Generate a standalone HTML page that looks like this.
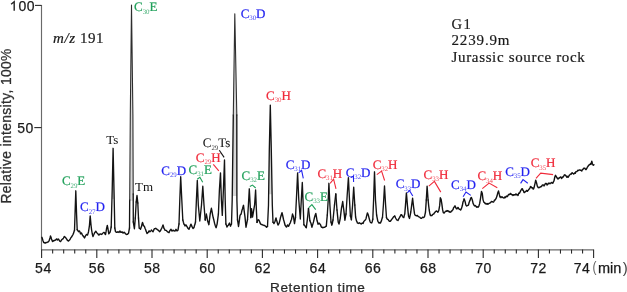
<!DOCTYPE html>
<html><head><meta charset="utf-8"><style>
html,body{margin:0;padding:0;background:#fff;}
svg{display:block;will-change:transform;}
.s{font-family:"Liberation Sans",sans-serif;}
.r{font-family:"Liberation Serif",serif;}
</style></head><body>
<svg width="627" height="292" viewBox="0 0 627 292">
<rect width="627" height="292" fill="#fff"/>
<g stroke="#6a6a6a" stroke-width="1.15" fill="none">
<line x1="41.5" y1="5" x2="41.5" y2="250"/>
<line x1="41.5" y1="249.9" x2="593.6" y2="249.9"/>
</g>
<g stroke="#2a2a2a" stroke-width="1.1" fill="none">
<line x1="35" y1="5.4" x2="41.5" y2="5.4"/>
<line x1="34.3" y1="127.6" x2="41.5" y2="127.6"/>
<line x1="41.60" y1="249.5" x2="41.60" y2="258"/>
<line x1="52.64" y1="249.5" x2="52.64" y2="253.6"/>
<line x1="63.68" y1="249.5" x2="63.68" y2="253.6"/>
<line x1="74.72" y1="249.5" x2="74.72" y2="253.6"/>
<line x1="85.76" y1="249.5" x2="85.76" y2="253.6"/>
<line x1="96.80" y1="249.5" x2="96.80" y2="258"/>
<line x1="107.84" y1="249.5" x2="107.84" y2="253.6"/>
<line x1="118.88" y1="249.5" x2="118.88" y2="253.6"/>
<line x1="129.92" y1="249.5" x2="129.92" y2="253.6"/>
<line x1="140.96" y1="249.5" x2="140.96" y2="253.6"/>
<line x1="152.00" y1="249.5" x2="152.00" y2="258"/>
<line x1="163.04" y1="249.5" x2="163.04" y2="253.6"/>
<line x1="174.08" y1="249.5" x2="174.08" y2="253.6"/>
<line x1="185.12" y1="249.5" x2="185.12" y2="253.6"/>
<line x1="196.16" y1="249.5" x2="196.16" y2="253.6"/>
<line x1="207.20" y1="249.5" x2="207.20" y2="258"/>
<line x1="218.24" y1="249.5" x2="218.24" y2="253.6"/>
<line x1="229.28" y1="249.5" x2="229.28" y2="253.6"/>
<line x1="240.32" y1="249.5" x2="240.32" y2="253.6"/>
<line x1="251.36" y1="249.5" x2="251.36" y2="253.6"/>
<line x1="262.40" y1="249.5" x2="262.40" y2="258"/>
<line x1="273.44" y1="249.5" x2="273.44" y2="253.6"/>
<line x1="284.48" y1="249.5" x2="284.48" y2="253.6"/>
<line x1="295.52" y1="249.5" x2="295.52" y2="253.6"/>
<line x1="306.56" y1="249.5" x2="306.56" y2="253.6"/>
<line x1="317.60" y1="249.5" x2="317.60" y2="258"/>
<line x1="328.64" y1="249.5" x2="328.64" y2="253.6"/>
<line x1="339.68" y1="249.5" x2="339.68" y2="253.6"/>
<line x1="350.72" y1="249.5" x2="350.72" y2="253.6"/>
<line x1="361.76" y1="249.5" x2="361.76" y2="253.6"/>
<line x1="372.80" y1="249.5" x2="372.80" y2="258"/>
<line x1="383.84" y1="249.5" x2="383.84" y2="253.6"/>
<line x1="394.88" y1="249.5" x2="394.88" y2="253.6"/>
<line x1="405.92" y1="249.5" x2="405.92" y2="253.6"/>
<line x1="416.96" y1="249.5" x2="416.96" y2="253.6"/>
<line x1="428.00" y1="249.5" x2="428.00" y2="258"/>
<line x1="439.04" y1="249.5" x2="439.04" y2="253.6"/>
<line x1="450.08" y1="249.5" x2="450.08" y2="253.6"/>
<line x1="461.12" y1="249.5" x2="461.12" y2="253.6"/>
<line x1="472.16" y1="249.5" x2="472.16" y2="253.6"/>
<line x1="483.20" y1="249.5" x2="483.20" y2="258"/>
<line x1="494.24" y1="249.5" x2="494.24" y2="253.6"/>
<line x1="505.28" y1="249.5" x2="505.28" y2="253.6"/>
<line x1="516.32" y1="249.5" x2="516.32" y2="253.6"/>
<line x1="527.36" y1="249.5" x2="527.36" y2="253.6"/>
<line x1="538.40" y1="249.5" x2="538.40" y2="258"/>
<line x1="549.44" y1="249.5" x2="549.44" y2="253.6"/>
<line x1="560.48" y1="249.5" x2="560.48" y2="253.6"/>
<line x1="571.52" y1="249.5" x2="571.52" y2="253.6"/>
<line x1="582.56" y1="249.5" x2="582.56" y2="253.6"/>
<line x1="593.60" y1="249.5" x2="593.60" y2="258"/>
</g>
<g class="s" font-size="14" fill="#1a1a1a" stroke="#1a1a1a" stroke-width="0.25">
<text x="35.0" y="10.9" text-anchor="end" letter-spacing="0.5">00</text>
<path d="M11.1 4.2 L14.2 1.7 L14.2 10.8" fill="none" stroke="#222" stroke-width="1.4"/>
<text x="33.8" y="132.9" text-anchor="end" letter-spacing="0.5">50</text>
<text x="43.4" y="273.0" text-anchor="middle" letter-spacing="0.5">54</text>
<text x="97.1" y="273.0" text-anchor="middle" letter-spacing="0.5">56</text>
<text x="152.2" y="273.0" text-anchor="middle" letter-spacing="0.5">58</text>
<text x="207.5" y="273.0" text-anchor="middle" letter-spacing="0.5">60</text>
<text x="262.7" y="273.0" text-anchor="middle" letter-spacing="0.5">62</text>
<text x="317.9" y="273.0" text-anchor="middle" letter-spacing="0.5">64</text>
<text x="373.1" y="273.0" text-anchor="middle" letter-spacing="0.5">66</text>
<text x="428.3" y="273.0" text-anchor="middle" letter-spacing="0.5">68</text>
<text x="483.5" y="273.0" text-anchor="middle" letter-spacing="0.5">70</text>
<text x="538.6" y="273.0" text-anchor="middle" letter-spacing="0.5">72</text>
<text x="582.1" y="273.0" text-anchor="middle" letter-spacing="0.5">74</text>
<text x="592.5" y="272.5" font-size="15" font-weight="100" fill="#666" stroke="none" transform="scale(0.8,1) translate(148.1,0)">(</text>
<text x="598" y="272.6" font-size="14.5">min</text>
<text x="622.8" y="272.5" font-size="15" fill="#444" stroke="none">)</text>
<text x="270.1" y="291.6" font-size="13.6" fill="#333" letter-spacing="0.55">Retention time</text>
<text transform="translate(10.6,203.6) rotate(-90)" font-size="13.8" fill="#333" letter-spacing="0.38">Relative intensity, 100%</text>
</g>
<g class="r" font-size="15" fill="#1a1a1a" stroke="#1a1a1a" stroke-width="0.2">
<text x="53.0" y="43.3" font-size="15" font-style="italic" letter-spacing="0.6">m/z</text>
<text x="80.0" y="43.4" font-size="15" letter-spacing="0.55">191</text>
<text x="451.5" y="28.6" font-size="14.5" letter-spacing="1.5">G1</text>
<text x="451.5" y="44.8" letter-spacing="0.85">2239.9m</text>
<text x="451.5" y="61.9" letter-spacing="0.66">Jurassic source rock</text>
</g>
<polygon points="111.96,199.00 112.20,190.00 113.10,148.30 114.00,190.00 114.19,199.00" fill="#d8d8d8" stroke="none"/>
<polygon points="129.69,200.70 130.30,115.00 131.50,5.00 132.90,115.00 133.22,200.70" fill="#d8d8d8" stroke="none"/>
<polygon points="232.25,196.00 233.30,115.00 234.80,13.70 236.80,115.00 236.90,196.00" fill="#d8d8d8" stroke="none"/>
<polygon points="268.66,194.20 269.30,150.00 270.30,105.10 271.30,150.00 272.10,194.20" fill="#d8d8d8" stroke="none"/>
<polyline points="41.90,237.30 42.40,238.78 42.90,240.50 43.80,242.60 44.40,242.61 45.00,243.10 45.50,243.04 46.00,242.47 46.50,242.60 47.00,242.46 47.50,242.17 48.00,242.10 48.50,241.29 49.00,241.10 49.50,239.56 50.00,238.00 50.50,236.00 51.00,237.18 51.50,239.00 52.00,240.25 52.50,241.60 53.00,241.05 53.50,241.10 54.00,240.56 54.50,240.60 55.00,240.25 55.50,240.00 56.00,239.73 56.50,239.00 57.00,239.24 57.50,240.00 58.00,239.31 58.50,239.00 59.00,239.89 59.50,240.60 60.00,241.41 60.50,241.60 61.00,240.85 61.50,240.00 62.00,239.43 62.50,239.00 63.00,238.83 63.50,238.00 64.00,236.88 64.50,236.40 65.00,237.20 65.50,237.50 66.00,238.10 66.50,239.00 67.00,239.55 67.50,240.60 68.00,240.58 68.50,241.10 69.00,240.42 69.50,240.00 70.00,239.47 70.50,238.50 71.00,237.53 71.50,237.00 72.00,236.26 72.50,235.40 73.00,234.50 73.50,233.40 74.00,231.76 74.50,230.30" fill="none" stroke="#111" stroke-width="1.4" stroke-linejoin="round" stroke-linecap="round"/>
<polyline points="74.50,230.30 75.00,215.00 75.80,190.80 76.60,215.00 77.20,229.70" fill="none" stroke="#141414" stroke-width="1.35" stroke-linejoin="round" stroke-linecap="round"/>
<polyline points="77.20,229.70 77.85,230.73 78.50,231.70 79.00,231.04 79.50,231.00 80.00,232.09 80.50,233.80 81.00,233.19 81.50,233.00 82.00,234.18 82.50,235.10 83.00,235.75 83.50,236.50 84.00,237.07 84.50,237.90 85.00,236.91 85.50,235.80 86.00,235.12 86.50,234.50 87.00,234.66 87.50,235.10 88.00,233.61 88.50,231.70 89.00,228.49 89.50,225.00 90.20,216.00 91.00,225.00 91.60,230.00 92.30,234.00 93.00,236.50 93.50,235.15 94.00,234.22 94.50,233.00 95.15,232.12 95.80,231.20 96.37,232.23 96.93,232.89 97.50,233.50 98.00,233.85 98.50,234.84 99.00,235.00 99.65,234.23 100.30,234.00 100.90,234.19 101.50,234.50 102.00,234.18 102.50,233.26 103.00,233.00 103.50,232.69 104.00,232.40 104.50,232.78 105.00,233.92 105.50,234.50 106.00,231.94 106.50,229.00 107.30,225.50 108.00,229.00 108.80,233.80 109.40,233.15 110.00,232.40 110.60,229.96 111.20,227.00" fill="none" stroke="#111" stroke-width="1.4" stroke-linejoin="round" stroke-linecap="round"/>
<polyline points="111.20,227.00 112.20,190.00 113.10,148.30 114.00,190.00 114.80,228.00" fill="none" stroke="#141414" stroke-width="1.35" stroke-linejoin="round" stroke-linecap="round"/>
<polyline points="114.80,228.00 115.50,231.70 116.00,231.92 116.50,232.40 117.00,232.30 117.50,232.00 118.00,231.70 118.50,232.11 119.00,232.40 119.50,231.67 120.00,231.00 120.50,231.94 121.00,232.40 121.50,232.36 122.00,231.70 122.50,232.33 123.00,233.00 123.50,232.91 124.00,232.29 124.50,232.40 125.00,233.24 125.50,233.80 126.00,234.07 126.50,234.48 127.00,234.30 127.50,234.26 128.00,233.62 128.50,233.50 129.00,230.67 129.50,228.00" fill="none" stroke="#111" stroke-width="1.4" stroke-linejoin="round" stroke-linecap="round"/>
<polyline points="129.50,228.00 129.70,200.00" fill="none" stroke="#141414" stroke-width="1.35" stroke-linejoin="round" stroke-linecap="round"/>
<polyline points="129.70,200.00 130.30,115.00 131.50,5.00 132.90,115.00 133.20,194.00" fill="none" stroke="#2e2e2e" stroke-width="1.1" stroke-linejoin="round" stroke-linecap="round"/>
<polyline points="133.20,194.00 133.30,222.00" fill="none" stroke="#141414" stroke-width="1.35" stroke-linejoin="round" stroke-linecap="round"/>
<polyline points="133.30,222.00 133.85,225.47 134.40,228.70 135.30,218.00" fill="none" stroke="#111" stroke-width="1.4" stroke-linejoin="round" stroke-linecap="round"/>
<polyline points="135.30,218.00 136.20,202.00" fill="none" stroke="#141414" stroke-width="1.35" stroke-linejoin="round" stroke-linecap="round"/>
<polyline points="136.20,202.00 137.00,195.50 137.80,203.00" fill="none" stroke="#111" stroke-width="1.4" stroke-linejoin="round" stroke-linecap="round"/>
<polyline points="137.80,203.00 138.50,218.00" fill="none" stroke="#141414" stroke-width="1.35" stroke-linejoin="round" stroke-linecap="round"/>
<polyline points="138.50,218.00 139.20,228.30 139.85,228.42 140.50,229.20 141.00,227.87 141.50,226.60 142.00,224.27 142.50,222.40 143.00,223.83 143.50,225.80 144.00,225.89 144.50,226.60 145.00,228.22 145.50,229.21 146.00,230.90 146.50,232.02 147.00,233.50 147.50,232.97 148.00,232.60 148.50,232.01 149.00,230.90 149.50,231.03 150.00,231.75 150.50,231.13 151.00,230.62 151.50,230.00 152.00,230.85 152.50,231.39 153.00,231.75 153.50,230.73 154.00,229.20 154.50,228.74 155.00,228.54 155.50,228.30 156.00,228.50 156.50,229.17 157.00,229.20 157.50,229.92 158.00,230.00 158.50,230.34 159.00,230.94 159.50,231.75 160.00,231.09 160.50,230.80 161.00,229.51 161.50,228.59 162.00,227.50 162.50,226.31 163.00,225.00 163.50,226.58 164.00,228.50 164.50,229.00 165.00,230.20 165.50,230.31 166.00,230.44 166.50,230.70 167.00,231.15 167.50,231.82 168.00,231.90 168.50,232.43 169.00,232.70 169.50,231.46 170.00,230.20 170.50,229.83 171.00,229.30 171.50,230.27 172.00,231.00 172.50,230.42 173.00,230.75 173.50,230.20 174.00,230.66 174.50,231.00 175.00,231.00 175.50,230.36 176.00,229.30 176.50,230.07 177.00,231.00 177.50,230.53 178.00,230.20 178.50,226.82 179.00,224.00" fill="none" stroke="#111" stroke-width="1.4" stroke-linejoin="round" stroke-linecap="round"/>
<polyline points="179.00,224.00 179.80,200.00 180.70,176.70 181.80,200.00 182.80,220.00" fill="none" stroke="#141414" stroke-width="1.35" stroke-linejoin="round" stroke-linecap="round"/>
<polyline points="182.80,220.00 183.40,222.19 184.00,224.20 184.50,224.79 185.00,226.00 185.50,225.20 186.00,225.00 186.50,225.70 187.00,226.80 187.50,227.41 188.00,228.50 188.50,228.79 189.00,229.30 189.50,227.74 190.00,226.80 190.50,225.15 191.00,224.20 191.50,225.26 192.00,226.80 192.50,227.37 193.00,228.50 193.50,227.95 194.00,227.60 194.50,225.40 195.00,224.13 195.50,222.00" fill="none" stroke="#111" stroke-width="1.4" stroke-linejoin="round" stroke-linecap="round"/>
<polyline points="195.50,222.00 196.40,200.00 197.30,180.50 198.30,205.00 199.80,221.00 201.50,205.00 202.80,186.20 204.00,205.00 205.20,220.00" fill="none" stroke="#141414" stroke-width="1.35" stroke-linejoin="round" stroke-linecap="round"/>
<polyline points="205.20,220.00 205.75,217.08 206.30,214.00 206.95,217.25 207.60,221.00 208.25,222.68 208.90,224.70 209.55,219.24 210.20,214.00 210.80,211.05 211.40,208.30 212.05,211.54 212.70,215.30 213.30,218.04 213.90,220.30 214.55,223.20 215.20,225.40 216.10,227.70 216.60,225.88 217.10,224.10 217.75,219.04 218.40,214.00" fill="none" stroke="#111" stroke-width="1.4" stroke-linejoin="round" stroke-linecap="round"/>
<polyline points="218.40,214.00 219.40,190.00 220.50,172.90 221.40,200.00 222.30,215.40 223.40,190.00 224.50,160.00 225.20,200.00 225.90,224.00" fill="none" stroke="#141414" stroke-width="1.35" stroke-linejoin="round" stroke-linecap="round"/>
<polyline points="225.90,224.00 226.45,225.21 227.00,227.00 227.50,226.05 228.00,225.56 228.50,225.00 229.00,223.84 229.50,223.00 230.00,224.83 230.50,226.20 231.00,224.86 231.50,224.00" fill="none" stroke="#111" stroke-width="1.4" stroke-linejoin="round" stroke-linecap="round"/>
<polyline points="231.50,224.00 232.20,200.00 232.56,172.00 233.30,115.00" fill="none" stroke="#141414" stroke-width="1.35" stroke-linejoin="round" stroke-linecap="round"/>
<polyline points="233.30,115.00 234.80,13.70 236.80,115.00" fill="none" stroke="#2e2e2e" stroke-width="1.1" stroke-linejoin="round" stroke-linecap="round"/>
<polyline points="236.80,115.00 236.87,172.00 236.90,200.00 237.50,220.00" fill="none" stroke="#141414" stroke-width="1.35" stroke-linejoin="round" stroke-linecap="round"/>
<polyline points="237.50,220.00 238.00,222.92 238.50,226.50 239.00,223.15 239.50,219.19 240.00,215.50 240.50,214.60 241.00,214.20 241.50,212.40 242.00,210.20 242.50,208.70 243.00,207.02 243.50,205.30 244.00,209.53 244.50,213.35 245.00,217.00 245.50,222.24 246.00,227.20 246.50,224.53 247.00,222.11 247.50,219.70" fill="none" stroke="#111" stroke-width="1.4" stroke-linejoin="round" stroke-linecap="round"/>
<polyline points="247.50,219.70 248.40,205.00 249.30,188.80 250.20,205.00 250.80,217.60" fill="none" stroke="#141414" stroke-width="1.35" stroke-linejoin="round" stroke-linecap="round"/>
<polyline points="250.80,217.60 251.50,208.70 252.00,212.62 252.50,217.00 253.00,214.39 253.50,211.40 254.05,208.22 254.60,205.00" fill="none" stroke="#111" stroke-width="1.4" stroke-linejoin="round" stroke-linecap="round"/>
<polyline points="254.60,205.00 255.60,190.00 256.40,210.00 257.00,222.40" fill="none" stroke="#141414" stroke-width="1.35" stroke-linejoin="round" stroke-linecap="round"/>
<polyline points="257.00,222.40 257.50,221.25 258.00,219.70 258.50,219.88 259.00,220.30 259.50,221.27 260.00,222.85 260.50,223.80 261.00,224.37 261.50,224.51 262.00,224.50 262.50,224.91 263.00,225.12 263.50,225.10 264.00,225.50 264.50,225.38 265.00,225.80 265.50,226.28 266.00,226.63 266.50,227.20 267.00,226.52 267.50,226.50" fill="none" stroke="#111" stroke-width="1.4" stroke-linejoin="round" stroke-linecap="round"/>
<polyline points="267.50,226.50 268.50,205.00 269.30,150.00 270.30,105.10 271.30,150.00 272.30,205.00 273.00,222.20" fill="none" stroke="#141414" stroke-width="1.35" stroke-linejoin="round" stroke-linecap="round"/>
<polyline points="273.00,222.20 273.50,222.57 274.00,223.60 274.50,222.40 275.00,221.50 275.50,219.58 276.00,218.00 276.50,219.88 277.00,221.50 277.50,223.57 278.00,225.00 278.50,224.26 279.00,223.60 279.50,221.84 280.00,219.81 280.50,217.40 281.00,216.12 281.50,214.11 282.00,212.60 282.50,214.70 283.00,217.01 283.50,219.50 284.00,221.12 284.50,222.96 285.00,225.00 285.50,225.75 286.00,226.61 286.50,227.00 287.00,226.24 287.50,225.00 288.00,225.64 288.50,226.30 289.00,225.36 289.50,224.20 290.00,223.41 290.50,222.20 291.00,220.56 291.50,219.50 292.00,216.86 292.50,214.00 293.00,215.64 293.50,216.70 294.00,220.35 294.50,223.60 295.00,220.68 295.50,217.40" fill="none" stroke="#111" stroke-width="1.4" stroke-linejoin="round" stroke-linecap="round"/>
<polyline points="295.50,217.40 296.60,195.00 297.60,173.00 298.80,200.00 300.30,219.00 301.30,200.00 302.30,182.50 303.20,205.00 303.90,224.70" fill="none" stroke="#141414" stroke-width="1.35" stroke-linejoin="round" stroke-linecap="round"/>
<polyline points="303.90,224.70 304.50,225.43 305.10,225.97 305.70,227.16 306.30,227.70 306.80,223.73 307.30,220.00 307.90,214.47 308.50,208.50" fill="none" stroke="#111" stroke-width="1.4" stroke-linejoin="round" stroke-linecap="round"/>
<polyline points="308.50,208.50 309.90,220.60" fill="none" stroke="#141414" stroke-width="1.35" stroke-linejoin="round" stroke-linecap="round"/>
<polyline points="309.90,220.60 310.40,222.15 310.90,223.00 311.40,225.02 311.90,227.20 312.45,225.33 313.00,223.60 313.50,221.90 314.00,219.70 314.50,217.50 315.15,215.25 315.80,213.50 316.40,216.72 317.00,220.50 317.50,222.08 318.00,224.20 318.55,223.96 319.10,223.10 319.65,223.89 320.20,224.20 320.70,225.18 321.20,226.70 321.70,227.20 322.20,227.20 322.70,227.73 323.20,227.50 323.73,227.52 324.27,227.18 324.80,227.20 325.30,226.91 325.80,226.24 326.30,226.20 326.80,220.21 327.30,215.00" fill="none" stroke="#111" stroke-width="1.4" stroke-linejoin="round" stroke-linecap="round"/>
<polyline points="327.30,215.00 328.20,200.00 328.90,183.30 329.90,205.00 331.00,222.00" fill="none" stroke="#141414" stroke-width="1.35" stroke-linejoin="round" stroke-linecap="round"/>
<polyline points="331.00,222.00 331.90,225.20 332.45,222.99 333.00,220.00" fill="none" stroke="#111" stroke-width="1.4" stroke-linejoin="round" stroke-linecap="round"/>
<polyline points="333.00,220.00 334.50,205.00" fill="none" stroke="#141414" stroke-width="1.35" stroke-linejoin="round" stroke-linecap="round"/>
<polyline points="334.50,205.00 335.15,199.57 335.80,193.90" fill="none" stroke="#111" stroke-width="1.4" stroke-linejoin="round" stroke-linecap="round"/>
<polyline points="335.80,193.90 337.00,210.00" fill="none" stroke="#141414" stroke-width="1.35" stroke-linejoin="round" stroke-linecap="round"/>
<polyline points="337.00,210.00 337.60,216.02 338.20,222.00 339.00,224.10 339.65,221.42 340.30,218.00 340.90,212.94 341.50,208.00 342.10,205.07 342.70,201.50 343.25,206.03 343.80,210.00 344.35,214.85 344.90,220.20 345.45,216.88 346.00,214.00" fill="none" stroke="#111" stroke-width="1.4" stroke-linejoin="round" stroke-linecap="round"/>
<polyline points="346.00,214.00 347.20,195.00 348.40,177.60 349.50,200.00 350.40,216.00" fill="none" stroke="#141414" stroke-width="1.35" stroke-linejoin="round" stroke-linecap="round"/>
<polyline points="350.40,216.00 350.90,217.67 351.40,219.70" fill="none" stroke="#111" stroke-width="1.4" stroke-linejoin="round" stroke-linecap="round"/>
<polyline points="351.40,219.70 352.60,205.00 353.70,187.20 354.80,205.00" fill="none" stroke="#141414" stroke-width="1.35" stroke-linejoin="round" stroke-linecap="round"/>
<polyline points="354.80,205.00 355.60,217.00 356.40,220.60 356.90,221.56 357.40,223.00 358.30,223.50 358.80,223.23 359.30,222.80 360.20,223.50 360.70,223.53 361.20,224.00 361.70,223.42 362.20,223.00 363.10,223.50 363.60,221.96 364.10,221.10 365.00,220.10 365.50,219.79 366.00,218.70 366.70,215.66 367.40,212.90 367.90,214.06 368.40,215.30 368.90,217.33 369.40,219.20 369.95,221.24 370.50,222.50 371.10,222.67 371.70,223.00 372.25,221.50 372.80,219.20" fill="none" stroke="#111" stroke-width="1.4" stroke-linejoin="round" stroke-linecap="round"/>
<polyline points="372.80,219.20 373.60,200.00 374.50,171.80 375.50,200.00 376.60,215.00" fill="none" stroke="#141414" stroke-width="1.35" stroke-linejoin="round" stroke-linecap="round"/>
<polyline points="376.60,215.00 377.20,218.05 377.80,221.10 378.40,222.08 379.00,223.00 379.50,223.02 380.00,222.52 380.50,223.00 381.00,221.74 381.50,220.60 382.00,218.63 382.50,217.30" fill="none" stroke="#111" stroke-width="1.4" stroke-linejoin="round" stroke-linecap="round"/>
<polyline points="382.50,217.30 383.40,205.00 384.50,186.00 385.60,205.00 386.50,217.70" fill="none" stroke="#141414" stroke-width="1.35" stroke-linejoin="round" stroke-linecap="round"/>
<polyline points="386.50,217.70 387.40,219.30 388.05,219.39 388.70,220.50 389.60,221.40 390.30,221.26 391.00,220.50 391.65,219.31 392.30,218.80 393.00,217.72 393.70,216.70 394.20,216.49 394.70,215.80 395.60,218.00 396.30,219.11 397.00,220.10 397.50,220.12 398.00,220.50 398.50,219.47 399.00,218.40 399.50,217.61 400.00,216.70 400.50,215.95 401.00,214.60 401.50,214.58 402.00,215.40 402.50,216.31 403.00,217.10 403.80,217.60 404.30,215.38 404.80,213.70 405.50,205.00 406.40,193.00 406.90,198.76 407.40,205.00 407.95,210.80 408.50,216.00 409.00,217.21 409.50,218.40 410.15,215.27 410.80,212.00 411.70,205.00 412.60,198.30 413.10,202.94 413.60,207.00 414.50,213.70 415.00,215.01 415.50,215.40 416.40,215.80 416.90,215.54 417.40,215.40 417.95,216.18 418.50,216.70 419.00,216.91 419.50,217.10 420.00,217.56 420.50,218.00 421.05,218.42 421.60,218.40 422.10,217.70 422.60,217.10 423.10,217.39 423.60,217.60 424.50,216.70 425.00,214.32 425.50,212.00 426.30,200.00" fill="none" stroke="#111" stroke-width="1.4" stroke-linejoin="round" stroke-linecap="round"/>
<polyline points="426.30,200.00 427.10,186.10 428.10,200.00" fill="none" stroke="#141414" stroke-width="1.35" stroke-linejoin="round" stroke-linecap="round"/>
<polyline points="428.10,200.00 428.65,205.52 429.20,210.00 429.70,212.73 430.20,215.00 430.70,215.69 431.20,215.50 431.85,215.67 432.50,214.80 433.10,214.11 433.70,214.00 434.60,212.70 435.40,211.80 436.30,211.00 437.10,211.40 437.90,212.30 438.80,210.50 439.70,205.40 440.30,197.70 441.10,199.40 441.80,203.70 442.60,209.70 443.30,212.70 444.10,213.10 445.00,211.80 445.50,211.47 446.00,211.00 446.50,211.30 447.00,210.50 447.50,211.17 448.00,211.00 448.50,210.95 449.00,211.80 449.50,211.58 450.00,212.30 450.50,211.98 451.00,211.80 451.50,210.86 452.00,211.00 452.50,210.02 453.00,209.70 453.50,207.86 454.00,207.10 454.50,206.66 455.00,205.80 455.50,207.26 456.00,208.00 456.50,208.91 457.00,208.80 457.80,207.50 458.30,207.71 458.80,208.80 459.70,209.30 460.60,210.10 461.50,208.40 462.30,205.80 463.00,202.00 463.55,200.68 464.10,198.80 465.00,201.20 465.90,205.10 466.70,206.00 467.60,205.50 468.10,205.31 468.60,204.70 469.10,202.53 469.60,201.30 470.10,200.31 470.60,198.30 471.40,197.40 472.30,200.00 473.10,203.40 474.00,205.10 474.50,205.93 475.00,205.50 475.50,205.57 476.00,206.40 476.50,207.21 477.00,206.80 477.50,206.91 478.00,207.30 478.80,206.40 479.70,203.40 480.60,197.80 481.50,191.40 482.30,193.60 483.00,199.60 483.80,202.10 484.30,202.53 484.80,203.00 485.40,203.88 486.00,203.40 486.50,204.06 487.00,203.80 487.50,203.58 488.00,204.30 488.50,203.75 489.00,203.40 489.50,203.22 490.00,203.00 490.50,202.33 491.00,202.10 491.50,201.47 492.00,201.70 492.50,201.64 493.00,202.10 493.50,202.01 494.00,201.30 494.50,199.97 495.00,200.00 495.50,199.43 496.00,198.70 496.50,197.32 497.00,196.10 497.80,192.70 498.50,191.00 499.30,194.40 500.00,197.00 500.50,196.66 501.00,197.70 501.50,197.01 502.00,196.80 502.50,197.43 503.00,197.70 503.50,197.92 504.00,198.10 504.50,197.07 505.00,197.30 505.50,197.56 506.00,196.40 506.50,196.62 507.00,196.00 507.50,196.44 508.00,195.50 508.50,194.52 509.00,194.70 509.50,194.16 510.00,194.30 510.50,193.37 511.00,193.80 511.50,194.66 512.00,194.70 512.50,194.76 513.00,195.50 513.50,194.75 514.00,195.10 514.50,194.78 515.00,194.70 515.50,194.86 516.00,193.80 516.50,194.73 517.00,194.70 517.50,194.74 518.00,195.50 518.50,193.72 519.00,193.00 519.50,193.18 520.00,192.10 520.50,191.16 521.00,190.00 521.50,189.65 522.00,188.70 522.50,188.93 523.00,190.40 523.50,190.83 524.00,192.60 524.50,192.64 525.00,192.10 525.50,191.59 526.00,191.30 526.50,190.40 527.00,190.80 527.50,191.27 528.00,190.40 528.50,189.96 529.00,189.10 529.50,188.91 530.00,187.80 530.50,186.56 531.00,186.60 531.50,187.75 532.00,187.80 532.50,187.78 533.00,189.10 533.50,189.01 534.00,187.80 534.50,185.63 535.00,183.60 535.70,180.10 536.50,182.70 537.30,186.10 538.20,187.50 539.00,187.70 539.50,187.25 540.00,187.30 540.50,186.93 541.00,186.40 541.50,186.63 542.00,185.50 542.50,184.93 543.00,185.10 543.50,184.96 544.00,186.00 544.50,185.19 545.00,184.30 545.50,183.43 546.00,183.40 546.50,183.62 547.00,185.10 547.50,184.16 548.00,184.30 548.50,183.13 549.00,183.40 549.50,183.12 550.00,183.80 550.50,183.10 551.00,183.00 551.50,182.48 552.00,182.60 552.50,183.22 553.00,183.00 553.50,181.56 554.00,180.80 554.80,177.00 555.50,175.30 556.30,176.60 557.00,177.80 557.50,178.45 558.00,179.10 558.50,178.17 559.00,178.30 559.50,177.55 560.00,177.30 560.53,176.90 561.07,177.69 561.60,178.50 562.17,177.03 562.73,177.55 563.30,176.50 563.83,176.02 564.37,174.85 564.90,174.80 565.55,175.41 566.20,176.10 566.73,177.23 567.27,176.24 567.80,177.30 568.40,177.04 569.00,175.70 569.57,175.02 570.13,174.56 570.70,174.00 571.23,174.17 571.77,173.02 572.30,172.80 572.95,173.41 573.60,174.00 574.20,173.72 574.80,172.80 575.33,173.22 575.87,171.73 576.40,171.60 577.05,171.52 577.70,170.30 578.23,170.52 578.77,170.27 579.30,169.90 579.90,169.94 580.50,170.30 581.15,170.44 581.80,171.10 582.40,169.53 583.00,169.50 583.60,168.26 584.20,168.30 584.85,168.15 585.50,169.50 586.10,169.52 586.70,168.70 587.30,167.22 587.90,166.60 588.55,165.21 589.20,165.00 590.00,164.20 590.50,163.57 591.00,164.40 591.80,161.20 592.50,164.00 593.30,165.30 594.00,164.80" fill="none" stroke="#111" stroke-width="1.4" stroke-linejoin="round" stroke-linecap="round"/>
<g class="r">
<text x="106.2" y="144" font-size="13" fill="#111">Ts</text>
<text x="135.1" y="190.8" font-size="13" fill="#111">Tm</text>
<text x="61.9" y="185.4" fill="#20a05a" stroke="#20a05a" stroke-width="0.22" font-size="13" text-rendering="geometricPrecision">C<tspan font-size="6.9" dy="2.3" stroke-width="0" fill-opacity="0.85" letter-spacing="-0.1">29</tspan><tspan dy="-2.3">E</tspan></text>
<text x="80.1" y="211.4" fill="#2323f0" stroke="#2323f0" stroke-width="0.22" font-size="13" text-rendering="geometricPrecision">C<tspan font-size="6.9" dy="2.3" stroke-width="0" fill-opacity="0.85" letter-spacing="-0.1">27</tspan><tspan dy="-2.3">D</tspan></text>
<text x="134.10000000000002" y="11.2" fill="#20a05a" stroke="#20a05a" stroke-width="0.22" font-size="13" text-rendering="geometricPrecision">C<tspan font-size="6.9" dy="2.3" stroke-width="0" fill-opacity="0.85" letter-spacing="-0.1">30</tspan><tspan dy="-2.3">E</tspan></text>
<text x="161.3" y="174.6" fill="#2323f0" stroke="#2323f0" stroke-width="0.22" font-size="13" text-rendering="geometricPrecision">C<tspan font-size="6.9" dy="2.3" stroke-width="0" fill-opacity="0.85" letter-spacing="-0.1">29</tspan><tspan dy="-2.3">D</tspan></text>
<text x="188.60000000000002" y="173.9" fill="#20a05a" stroke="#20a05a" stroke-width="0.22" font-size="13" text-rendering="geometricPrecision">C<tspan font-size="6.9" dy="2.3" stroke-width="0" fill-opacity="0.85" letter-spacing="-0.1">31</tspan><tspan dy="-2.3">E</tspan></text>
<text x="195.8" y="161.7" fill="#f02a3a" stroke="#f02a3a" stroke-width="0.22" font-size="13" text-rendering="geometricPrecision">C<tspan font-size="6.9" dy="2.3" stroke-width="0" fill-opacity="0.85" letter-spacing="-0.1">29</tspan><tspan dy="-2.3">H</tspan></text>
<text x="202.8" y="147.2" fill="#111" stroke="#111" stroke-width="0.05" font-size="13" text-rendering="geometricPrecision">C<tspan font-size="6.9" dy="2.3" stroke-width="0" fill-opacity="0.85" letter-spacing="-0.1">29</tspan><tspan dy="-2.3">Ts</tspan></text>
<text x="240.70000000000002" y="18.0" fill="#2323f0" stroke="#2323f0" stroke-width="0.22" font-size="13" text-rendering="geometricPrecision">C<tspan font-size="6.9" dy="2.3" stroke-width="0" fill-opacity="0.85" letter-spacing="-0.1">30</tspan><tspan dy="-2.3">D</tspan></text>
<text x="241.5" y="179.9" fill="#20a05a" stroke="#20a05a" stroke-width="0.22" font-size="13" text-rendering="geometricPrecision">C<tspan font-size="6.9" dy="2.3" stroke-width="0" fill-opacity="0.85" letter-spacing="-0.1">32</tspan><tspan dy="-2.3">E</tspan></text>
<text x="266.1" y="99.5" fill="#f02a3a" stroke="#f02a3a" stroke-width="0.22" font-size="13" text-rendering="geometricPrecision">C<tspan font-size="6.9" dy="2.3" stroke-width="0" fill-opacity="0.85" letter-spacing="-0.1">30</tspan><tspan dy="-2.3">H</tspan></text>
<text x="285.7" y="168.5" fill="#2323f0" stroke="#2323f0" stroke-width="0.22" font-size="13" text-rendering="geometricPrecision">C<tspan font-size="6.9" dy="2.3" stroke-width="0" fill-opacity="0.85" letter-spacing="-0.1">31</tspan><tspan dy="-2.3">D</tspan></text>
<text x="304.5" y="200.8" fill="#20a05a" stroke="#20a05a" stroke-width="0.22" font-size="13" text-rendering="geometricPrecision">C<tspan font-size="6.9" dy="2.3" stroke-width="0" fill-opacity="0.85" letter-spacing="-0.1">33</tspan><tspan dy="-2.3">E</tspan></text>
<text x="317.40000000000003" y="177.8" fill="#f02a3a" stroke="#f02a3a" stroke-width="0.22" font-size="13" text-rendering="geometricPrecision">C<tspan font-size="6.9" dy="2.3" stroke-width="0" fill-opacity="0.85" letter-spacing="-0.1">31</tspan><tspan dy="-2.3">H</tspan></text>
<text x="345.7" y="176.5" fill="#2323f0" stroke="#2323f0" stroke-width="0.22" font-size="13" text-rendering="geometricPrecision">C<tspan font-size="6.9" dy="2.3" stroke-width="0" fill-opacity="0.85" letter-spacing="-0.1">32</tspan><tspan dy="-2.3">D</tspan></text>
<text x="372.7" y="168.8" fill="#f02a3a" stroke="#f02a3a" stroke-width="0.22" font-size="13" text-rendering="geometricPrecision">C<tspan font-size="6.9" dy="2.3" stroke-width="0" fill-opacity="0.85" letter-spacing="-0.1">32</tspan><tspan dy="-2.3">H</tspan></text>
<text x="395.7" y="188.3" fill="#2323f0" stroke="#2323f0" stroke-width="0.22" font-size="13" text-rendering="geometricPrecision">C<tspan font-size="6.9" dy="2.3" stroke-width="0" fill-opacity="0.85" letter-spacing="-0.1">33</tspan><tspan dy="-2.3">D</tspan></text>
<text x="423.6" y="178.9" fill="#f02a3a" stroke="#f02a3a" stroke-width="0.22" font-size="13" text-rendering="geometricPrecision">C<tspan font-size="6.9" dy="2.3" stroke-width="0" fill-opacity="0.85" letter-spacing="-0.1">33</tspan><tspan dy="-2.3">H</tspan></text>
<text x="451.1" y="189.0" fill="#2323f0" stroke="#2323f0" stroke-width="0.22" font-size="13" text-rendering="geometricPrecision">C<tspan font-size="6.9" dy="2.3" stroke-width="0" fill-opacity="0.85" letter-spacing="-0.1">34</tspan><tspan dy="-2.3">D</tspan></text>
<text x="477.40000000000003" y="180.2" fill="#f02a3a" stroke="#f02a3a" stroke-width="0.22" font-size="13" text-rendering="geometricPrecision">C<tspan font-size="6.9" dy="2.3" stroke-width="0" fill-opacity="0.85" letter-spacing="-0.1">34</tspan><tspan dy="-2.3">H</tspan></text>
<text x="505.2" y="175.7" fill="#2323f0" stroke="#2323f0" stroke-width="0.22" font-size="13" text-rendering="geometricPrecision">C<tspan font-size="6.9" dy="2.3" stroke-width="0" fill-opacity="0.85" letter-spacing="-0.1">35</tspan><tspan dy="-2.3">D</tspan></text>
<text x="530.6999999999999" y="167.4" fill="#f02a3a" stroke="#f02a3a" stroke-width="0.22" font-size="13" text-rendering="geometricPrecision">C<tspan font-size="6.9" dy="2.3" stroke-width="0" fill-opacity="0.85" letter-spacing="-0.1">35</tspan><tspan dy="-2.3">H</tspan></text>
</g>
<g>
<polyline points="197.2,179.2 199.9,177.2 202.7,182.3" fill="none" stroke="#20a05a" stroke-width="1.1"/>
<polyline points="249.8,186.6 252.5,185.1 255.7,188" fill="none" stroke="#20a05a" stroke-width="1.1"/>
<polyline points="308.8,207.7 311.9,204.6 315.7,209.7" fill="none" stroke="#20a05a" stroke-width="1.1"/>
<polyline points="213.3,164.3 218.8,170.8" fill="none" stroke="#f02a3a" stroke-width="1.1"/>
<polyline points="219.3,150.2 224.1,157.4" fill="none" stroke="#111" stroke-width="1.1"/>
<polyline points="298.6,172.8 301.6,170.3 303.3,178.4" fill="none" stroke="#2323f0" stroke-width="1.1"/>
<polyline points="330.1,183.3 333.6,179.2 336,188.8" fill="none" stroke="#f02a3a" stroke-width="1.1"/>
<polyline points="351,177.5 353.4,176.2 353.6,182" fill="none" stroke="#2323f0" stroke-width="1.1"/>
<polyline points="376.8,174.6 381.6,171.1 384.6,180.5" fill="none" stroke="#f02a3a" stroke-width="1.1"/>
<polyline points="407.3,193 409.4,190.4 412.8,196" fill="none" stroke="#2323f0" stroke-width="1.1"/>
<polyline points="428.8,186.1 434.4,181.4 440.8,192.1" fill="none" stroke="#f02a3a" stroke-width="1.1"/>
<polyline points="463.1,196.7 466,192 470.8,195.4" fill="none" stroke="#2323f0" stroke-width="1.1"/>
<polyline points="482.3,188.7 489.1,183.1 497.3,187.8" fill="none" stroke="#f02a3a" stroke-width="1.1"/>
<polyline points="520.6,183.4 523,179.6 527.8,183.2" fill="none" stroke="#2323f0" stroke-width="1.1"/>
<polyline points="536,178.3 540.7,173.1 553.1,174.6" fill="none" stroke="#f02a3a" stroke-width="1.1"/>
</g>
</svg>
</body></html>
